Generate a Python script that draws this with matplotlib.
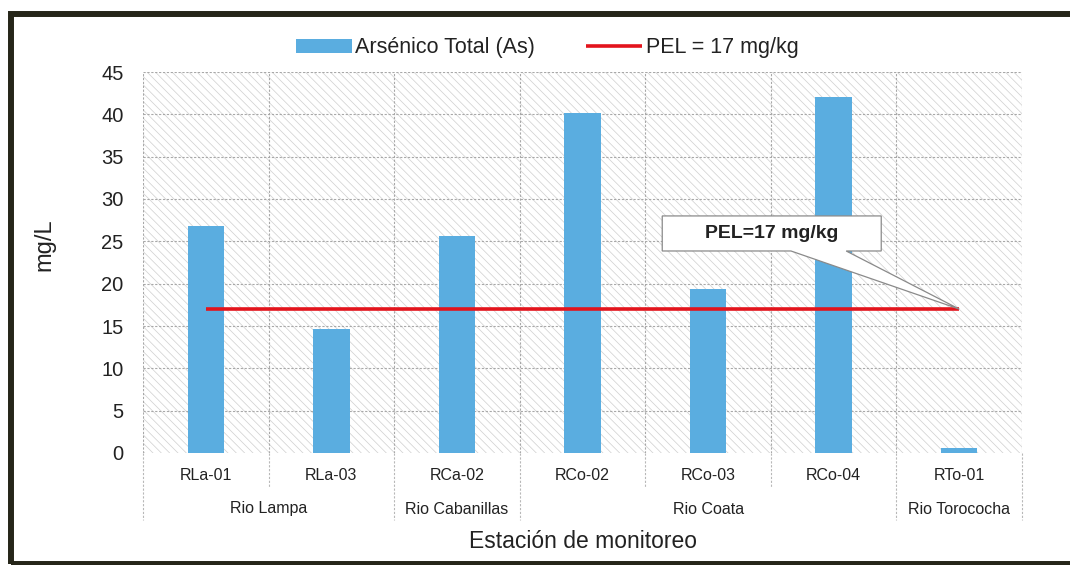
import matplotlib
matplotlib.use("Agg")
import matplotlib.pyplot as plt
from matplotlib.patches import Rectangle, Polygon
from matplotlib.lines import Line2D

plt.rcParams['font.family'] = ['Liberation Sans', 'DejaVu Sans']
plt.rcParams['hatch.linewidth'] = 0.5
plt.rcParams['hatch.color'] = '#cfcfcf'

# ---- data ----
stations = ["RLa-01", "RLa-03", "RCa-02", "RCo-02", "RCo-03", "RCo-04", "RTo-01"]
arsenic = [26.8, 14.6, 25.6, 40.1, 19.4, 42.1, 0.6]
rivers = ["Rio Lampa", "Rio Cabanillas", "Rio Coata", "Rio Torococha"]
river_sizes = [2, 1, 3, 1]
pel = 17
yticks = [0, 5, 10, 15, 20, 25, 30, 35, 40, 45]
series_label = "Arsénico Total (As)"
pel_label = "PEL = 17 mg/kg"
callout_text = "PEL=17 mg/kg"
ylabel = "mg/L"
xlabel = "Estación de monitoreo"

W, H = 1070, 565
fig = plt.figure(figsize=(W / 100, H / 100), dpi=100)
fig.patch.set_facecolor('white')

ax = fig.add_axes([143 / W, 1 - 453 / H, 879 / W, 381 / H])
n = len(stations)
xs = list(range(n))
ax.set_xlim(-0.5, n - 0.5)
ax.set_ylim(0, 45)

# hatched background
ax.add_patch(Rectangle((0, 0), 1, 1, transform=ax.transAxes, facecolor='white',
                       edgecolor='#cfcfcf', hatch='\\\\\\\\', linewidth=0, zorder=0))

# gridlines
gcol = '#a8a8a8'
for yv in yticks[1:]:
    ax.axhline(yv, color=gcol, linestyle=(0, (2, 1.5)), linewidth=0.8, zorder=1)
for b in range(n + 1):
    ax.axvline(b - 0.5, color=gcol, linestyle=(0, (2, 1.5)), linewidth=0.8, zorder=1)
for s in ax.spines.values():
    s.set_visible(False)

bars = ax.bar(xs, arsenic, width=0.29, color='#5aade0', zorder=3, label=series_label)
line, = ax.plot(xs, [pel] * n, color='#e3141c', linewidth=2.6, zorder=4, label=pel_label,
                solid_capstyle='butt')

ax.set_yticks(yticks)
ax.set_yticklabels([str(v) for v in yticks], fontsize=14.5, color='#222222')
ax.tick_params(axis='y', length=0, pad=14)
ax.set_xticks([])

# category labels and group labels
trans = ax.get_xaxis_transform()
px = 1 / 381.0
for i, s in enumerate(stations):
    ax.text(i, -23 * px, s, transform=trans, ha='center', va='center', fontsize=11.5,
            color='#222222')
start = 0
bounds_full = {0, n}
for name, size in zip(rivers, river_sizes):
    center = start + (size - 1) / 2.0
    ax.text(center, -56 * px, name, transform=trans, ha='center', va='center',
            fontsize=11.5, color='#222222')
    start += size
    bounds_full.add(start)
for b in range(n + 1):
    yend = -67 * px if b in bounds_full else -34 * px
    ax.add_line(Line2D([b - 0.5, b - 0.5], [0, yend], transform=trans, color='#b8b8b8',
                       linewidth=0.8, linestyle=(0, (2, 1.5)), clip_on=False))

fig.text(44 / W, 1 - 245 / H, ylabel, rotation=90, ha='center', va='center',
         fontsize=17, color='#222222')
fig.text(583 / W, 1 - 541 / H, xlabel, ha='center', va='center',
         fontsize=16.5, color='#222222')

# callout
tipx, tipy = xs[-1], pel
bx0, bx1 = tipx - 2.365, tipx - 0.621
by0, by1 = tipy + 6.86, tipy + 11.0
wx0, wx1 = tipx - 1.34, tipx - 0.90
poly = Polygon([(bx0, by1), (bx1, by1), (bx1, by0), (wx1, by0), (tipx, tipy),
                (wx0, by0), (bx0, by0)], closed=True, facecolor='white',
               edgecolor='#8a8a8a', linewidth=0.9, zorder=6)
ax.add_patch(poly)
ax.text((bx0 + bx1) / 2, (by0 + by1) / 2, callout_text, ha='center', va='center',
        fontsize=14, fontweight='bold', color='#222222', zorder=7)

# legend
leg = fig.legend(handles=[bars, line], labels=[series_label, pel_label], loc='center',
                 bbox_to_anchor=(547 / W, 1 - 48 / H), ncol=2, frameon=False,
                 fontsize=15.5, handlelength=2.6, handleheight=0.6, columnspacing=2.4,
                 handletextpad=0.15)
for t in leg.get_texts():
    t.set_color('#222222')

# outer dark frame
fig.add_artist(Rectangle((10.5 / W, 1.5 / H), 1.2, 1 - 14 / H - 1.5 / H,
                         transform=fig.transFigure, fill=False, edgecolor='#262619',
                         linewidth=4.3, clip_on=False))

fig.savefig('out.png', dpi=100, facecolor='white')
